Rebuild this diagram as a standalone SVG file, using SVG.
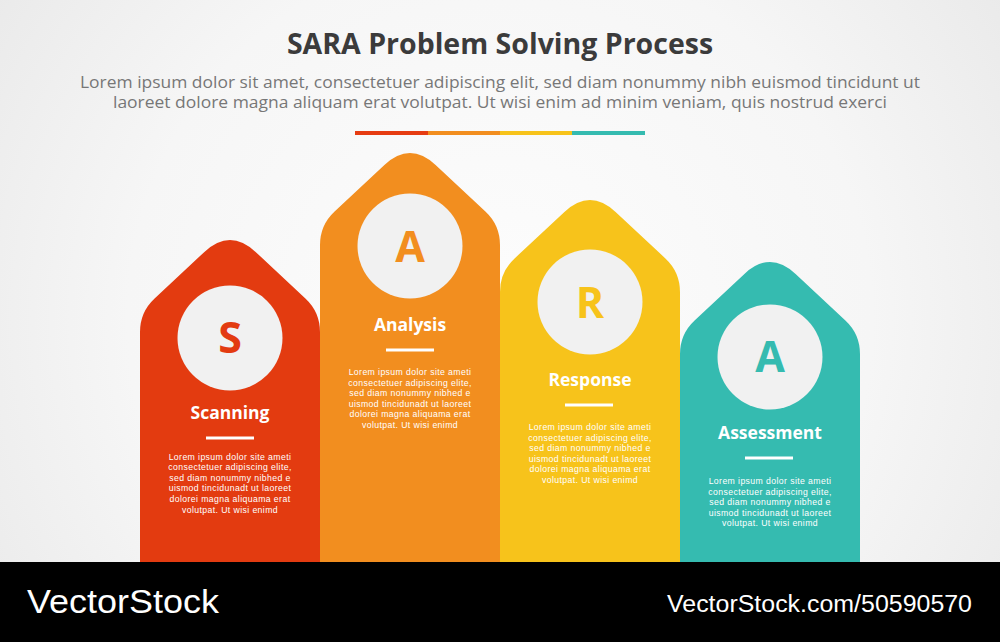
<svg xmlns="http://www.w3.org/2000/svg" width="1000" height="642" viewBox="0 0 1000 642">
<defs>
<radialGradient id="bg" cx="500" cy="320" r="620" gradientUnits="userSpaceOnUse">
<stop offset="0" stop-color="#fdfdfd"/>
<stop offset="0.6" stop-color="#f6f6f6"/>
<stop offset="1" stop-color="#e9e9e9"/>
</radialGradient>
<style>
.title{font-family:"Open Sans","Liberation Sans",sans-serif;font-weight:700;font-size:28.5px;fill:#3b3b3b;text-anchor:middle}
.sub{font-family:"Open Sans","Liberation Sans",sans-serif;font-weight:400;font-size:15.5px;fill:#777777;text-anchor:middle}
.circ{fill:#f1f1f1}
.letter{font-family:"Open Sans","Liberation Sans",sans-serif;font-weight:700;font-size:43px;text-anchor:middle}
.head{font-family:"Open Sans","Liberation Sans",sans-serif;font-weight:700;font-size:17.5px;fill:#ffffff;text-anchor:middle}
.body{font-family:"Liberation Sans",Arial,sans-serif;font-weight:400;font-size:8.7px;letter-spacing:0.4px;fill:#ffffff;text-anchor:middle}
.line{fill:#ffffff}
.wm{font-family:"Liberation Sans",Arial,sans-serif;fill:#ffffff}
</style>
</defs>
<rect x="0" y="0" width="1000" height="642" fill="url(#bg)"/>
<text class="title" x="500" y="54">SARA Problem Solving Process</text>
<text class="sub" x="500" y="88" textLength="840" lengthAdjust="spacingAndGlyphs">Lorem ipsum dolor sit amet, consectetuer adipiscing elit, sed diam nonummy nibh euismod tincidunt ut</text>
<text class="sub" x="500" y="108" textLength="774" lengthAdjust="spacingAndGlyphs">laoreet dolore magna aliquam erat volutpat. Ut wisi enim ad minim veniam, quis nostrud exerci</text>
<g id="colorbar">
<rect x="355" y="131" width="73" height="4" fill="#e63c12"/>
<rect x="428" y="131" width="72" height="4" fill="#f28e1f"/>
<rect x="500" y="131" width="72" height="4" fill="#f7c31b"/>
<rect x="572" y="131" width="73" height="4" fill="#35bbb0"/>
</g>
<g id="node-scanning">
<path fill="#e33b10" d="M140,565 V332 Q140,312 154.6,298.4 L204.4,251.9 Q230,228 255.6,251.9 L305.4,298.4 Q320,312 320,332 V565 Z"/>
<circle class="circ" cx="230" cy="338" r="52.5"/>
<text class="letter" x="230" y="353" fill="#e33b10">S</text>
<text class="head" x="230" y="419">Scanning</text>
<rect class="line" x="206" y="436.5" width="48" height="3"/>
<text class="body" x="230" y="459.5">Lorem ipsum dolor site ameti</text>
<text class="body" x="230" y="470.1">consectetuer adipiscing elite,</text>
<text class="body" x="230" y="480.7">sed diam nonummy nibhed e</text>
<text class="body" x="230" y="491.3">uismod tincidunadt ut laoreet</text>
<text class="body" x="230" y="501.9">dolorei magna aliquama erat</text>
<text class="body" x="230" y="512.5">volutpat. Ut wisi enimd</text>
</g>
<g id="node-analysis">
<path fill="#f28e1f" d="M320,565 V245 Q320,225 334.6,211.4 L384.4,164.9 Q410,141 435.6,164.9 L485.4,211.4 Q500,225 500,245 V565 Z"/>
<circle class="circ" cx="410" cy="246" r="52.5"/>
<text class="letter" x="410" y="262" fill="#f28e1f">A</text>
<text class="head" x="410" y="331">Analysis</text>
<rect class="line" x="386" y="348.5" width="48" height="3"/>
<text class="body" x="410" y="375">Lorem ipsum dolor site ameti</text>
<text class="body" x="410" y="385.6">consectetuer adipiscing elite,</text>
<text class="body" x="410" y="396.2">sed diam nonummy nibhed e</text>
<text class="body" x="410" y="406.8">uismod tincidunadt ut laoreet</text>
<text class="body" x="410" y="417.4">dolorei magna aliquama erat</text>
<text class="body" x="410" y="428">volutpat. Ut wisi enimd</text>
</g>
<g id="node-response">
<path fill="#f7c31b" d="M500,565 V292 Q500,272 514.6,258.4 L564.4,211.9 Q590,188 615.6,211.9 L665.4,258.4 Q680,272 680,292 V565 Z"/>
<circle class="circ" cx="590" cy="302" r="52.5"/>
<text class="letter" x="590" y="318" fill="#f7c31b">R</text>
<text class="head" x="590" y="386">Response</text>
<rect class="line" x="565" y="403.5" width="48" height="3"/>
<text class="body" x="590" y="430">Lorem ipsum dolor site ameti</text>
<text class="body" x="590" y="440.6">consectetuer adipiscing elite,</text>
<text class="body" x="590" y="451.2">sed diam nonummy nibhed e</text>
<text class="body" x="590" y="461.8">uismod tincidunadt ut laoreet</text>
<text class="body" x="590" y="472.4">dolorei magna aliquama erat</text>
<text class="body" x="590" y="483">volutpat. Ut wisi enimd</text>
</g>
<g id="node-assessment">
<path fill="#35bbb0" d="M680,565 V354 Q680,334 694.6,320.4 L744.4,273.9 Q770,250 795.6,273.9 L845.4,320.4 Q860,334 860,354 V565 Z"/>
<circle class="circ" cx="770" cy="357" r="52.5"/>
<text class="letter" x="770" y="372" fill="#35bbb0">A</text>
<text class="head" x="770" y="439">Assessment</text>
<rect class="line" x="745" y="456.5" width="48" height="3"/>
<text class="body" x="770" y="484">Lorem ipsum dolor site ameti</text>
<text class="body" x="770" y="494.6">consectetuer adipiscing elite,</text>
<text class="body" x="770" y="505.2">sed diam nonummy nibhed e</text>
<text class="body" x="770" y="515.8">uismod tincidunadt ut laoreet</text>
<text class="body" x="770" y="526.4">volutpat. Ut wisi enimd</text>
</g>
<g id="connectors"/>
<g id="watermark">
<rect x="0" y="562" width="1000" height="80" fill="#000000"/>
<text class="wm" x="27" y="613" font-size="33" textLength="192" lengthAdjust="spacingAndGlyphs">VectorStock</text>
<text class="wm" x="667" y="612" font-size="23" textLength="305" lengthAdjust="spacingAndGlyphs">VectorStock.com/50590570</text>
</g>
</svg>
